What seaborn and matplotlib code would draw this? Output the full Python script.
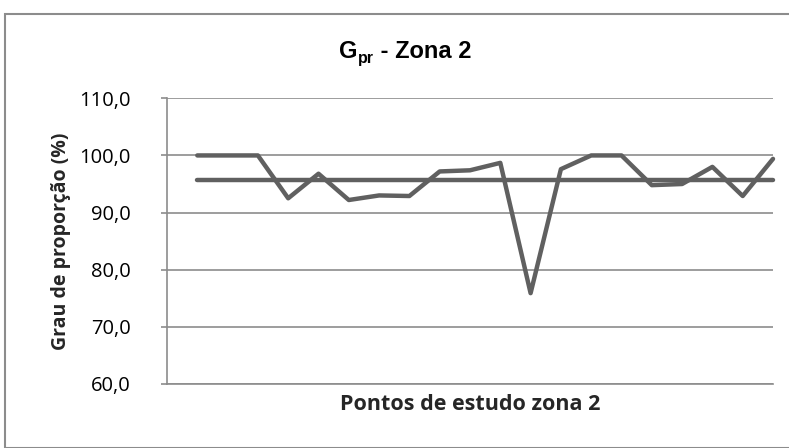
import matplotlib
matplotlib.use("Agg")
import matplotlib.pyplot as plt
import matplotlib.ticker as mticker
from matplotlib.patches import Rectangle
import seaborn as sns
import pandas as pd

# dados (Gpr por ponto de estudo, zona 2)
pontos = list(range(1, 21))
gpr = [100.0, 100.0, 100.0, 92.5, 96.8, 92.2, 93.0, 92.9, 97.2, 97.4,
       98.7, 75.9, 97.6, 100.0, 100.0, 94.8, 95.0, 98.0, 92.9, 99.4]
media = [95.7] * 20
y_ticks = [60, 70, 80, 90, 100, 110]

sns.set_theme(style="white")
plt.rcParams['font.family'] = ['Open Sans', 'DejaVu Sans']

df = pd.DataFrame({'ponto': pontos + pontos,
                   'valor': gpr + media,
                   'serie': ['Gpr'] * 20 + ['Média'] * 20})

W, H = 789, 448
fig = plt.figure(figsize=(W / 100, H / 100), dpi=100)
ax = fig.add_axes([167 / W, 1 - 384 / H, (773 - 167) / W, (384 - 98.3) / H])

# moldura externa do gráfico
fig.patches.append(Rectangle((5 / W, 0), 2, 1 - 14 / H, transform=fig.transFigure,
                             fill=False, edgecolor='#8c8c8c', lw=1.5))

sns.lineplot(data=df, x='ponto', y='valor', hue='serie', ax=ax,
             palette=['#606060', '#606060'], legend=False, linewidth=3.2,
             solid_capstyle='round', clip_on=False)

ax.set_xlim(0, 20)
ax.set_ylim(60, 110)
ax.set_yticks(y_ticks)
ax.yaxis.set_major_formatter(mticker.FuncFormatter(lambda v, p: f"{v:.1f}".replace('.', ',')))
ax.set_xticks([])
ax.grid(axis='y', color='#8c8c8c', lw=1.2)
ax.set_axisbelow(True)
for s in ['top', 'right']:
    ax.spines[s].set_visible(False)
for s in ['left', 'bottom']:
    ax.spines[s].set_color('#8c8c8c')
    ax.spines[s].set_linewidth(1.2)
ax.tick_params(axis='y', left=True, length=4, width=1.2, color='#8c8c8c',
               labelsize=14.5, labelcolor='black', pad=22)

ax.set_xlabel('Pontos de estudo zona 2', fontsize=15.5, fontweight='bold', labelpad=7)
ax.set_ylabel('Grau de proporção (%)', fontsize=14, fontweight='bold', labelpad=6)

# título "G" + subscrito "pr" + " - Zona 2", montado em partes
tkw = dict(family='Liberation Sans', fontweight='bold', color='black', va='baseline')
renderer = fig.canvas.get_renderer()
partes = [('G', 17, 0), ('pr', 11.5, -5), (' - Zona 2', 17, 0)]
objs, larg = [], 0
for txt, tam, dy in partes:
    t = fig.text(0, 0, txt, fontsize=tam, **tkw)
    larg += t.get_window_extent(renderer).width
    objs.append((t, dy))
x = 405 - larg / 2
for t, dy in objs:
    t.set_position((x / W, 1 - (58 - dy) / H))
    x += t.get_window_extent(renderer).width

fig.savefig('out.png', dpi=100)
